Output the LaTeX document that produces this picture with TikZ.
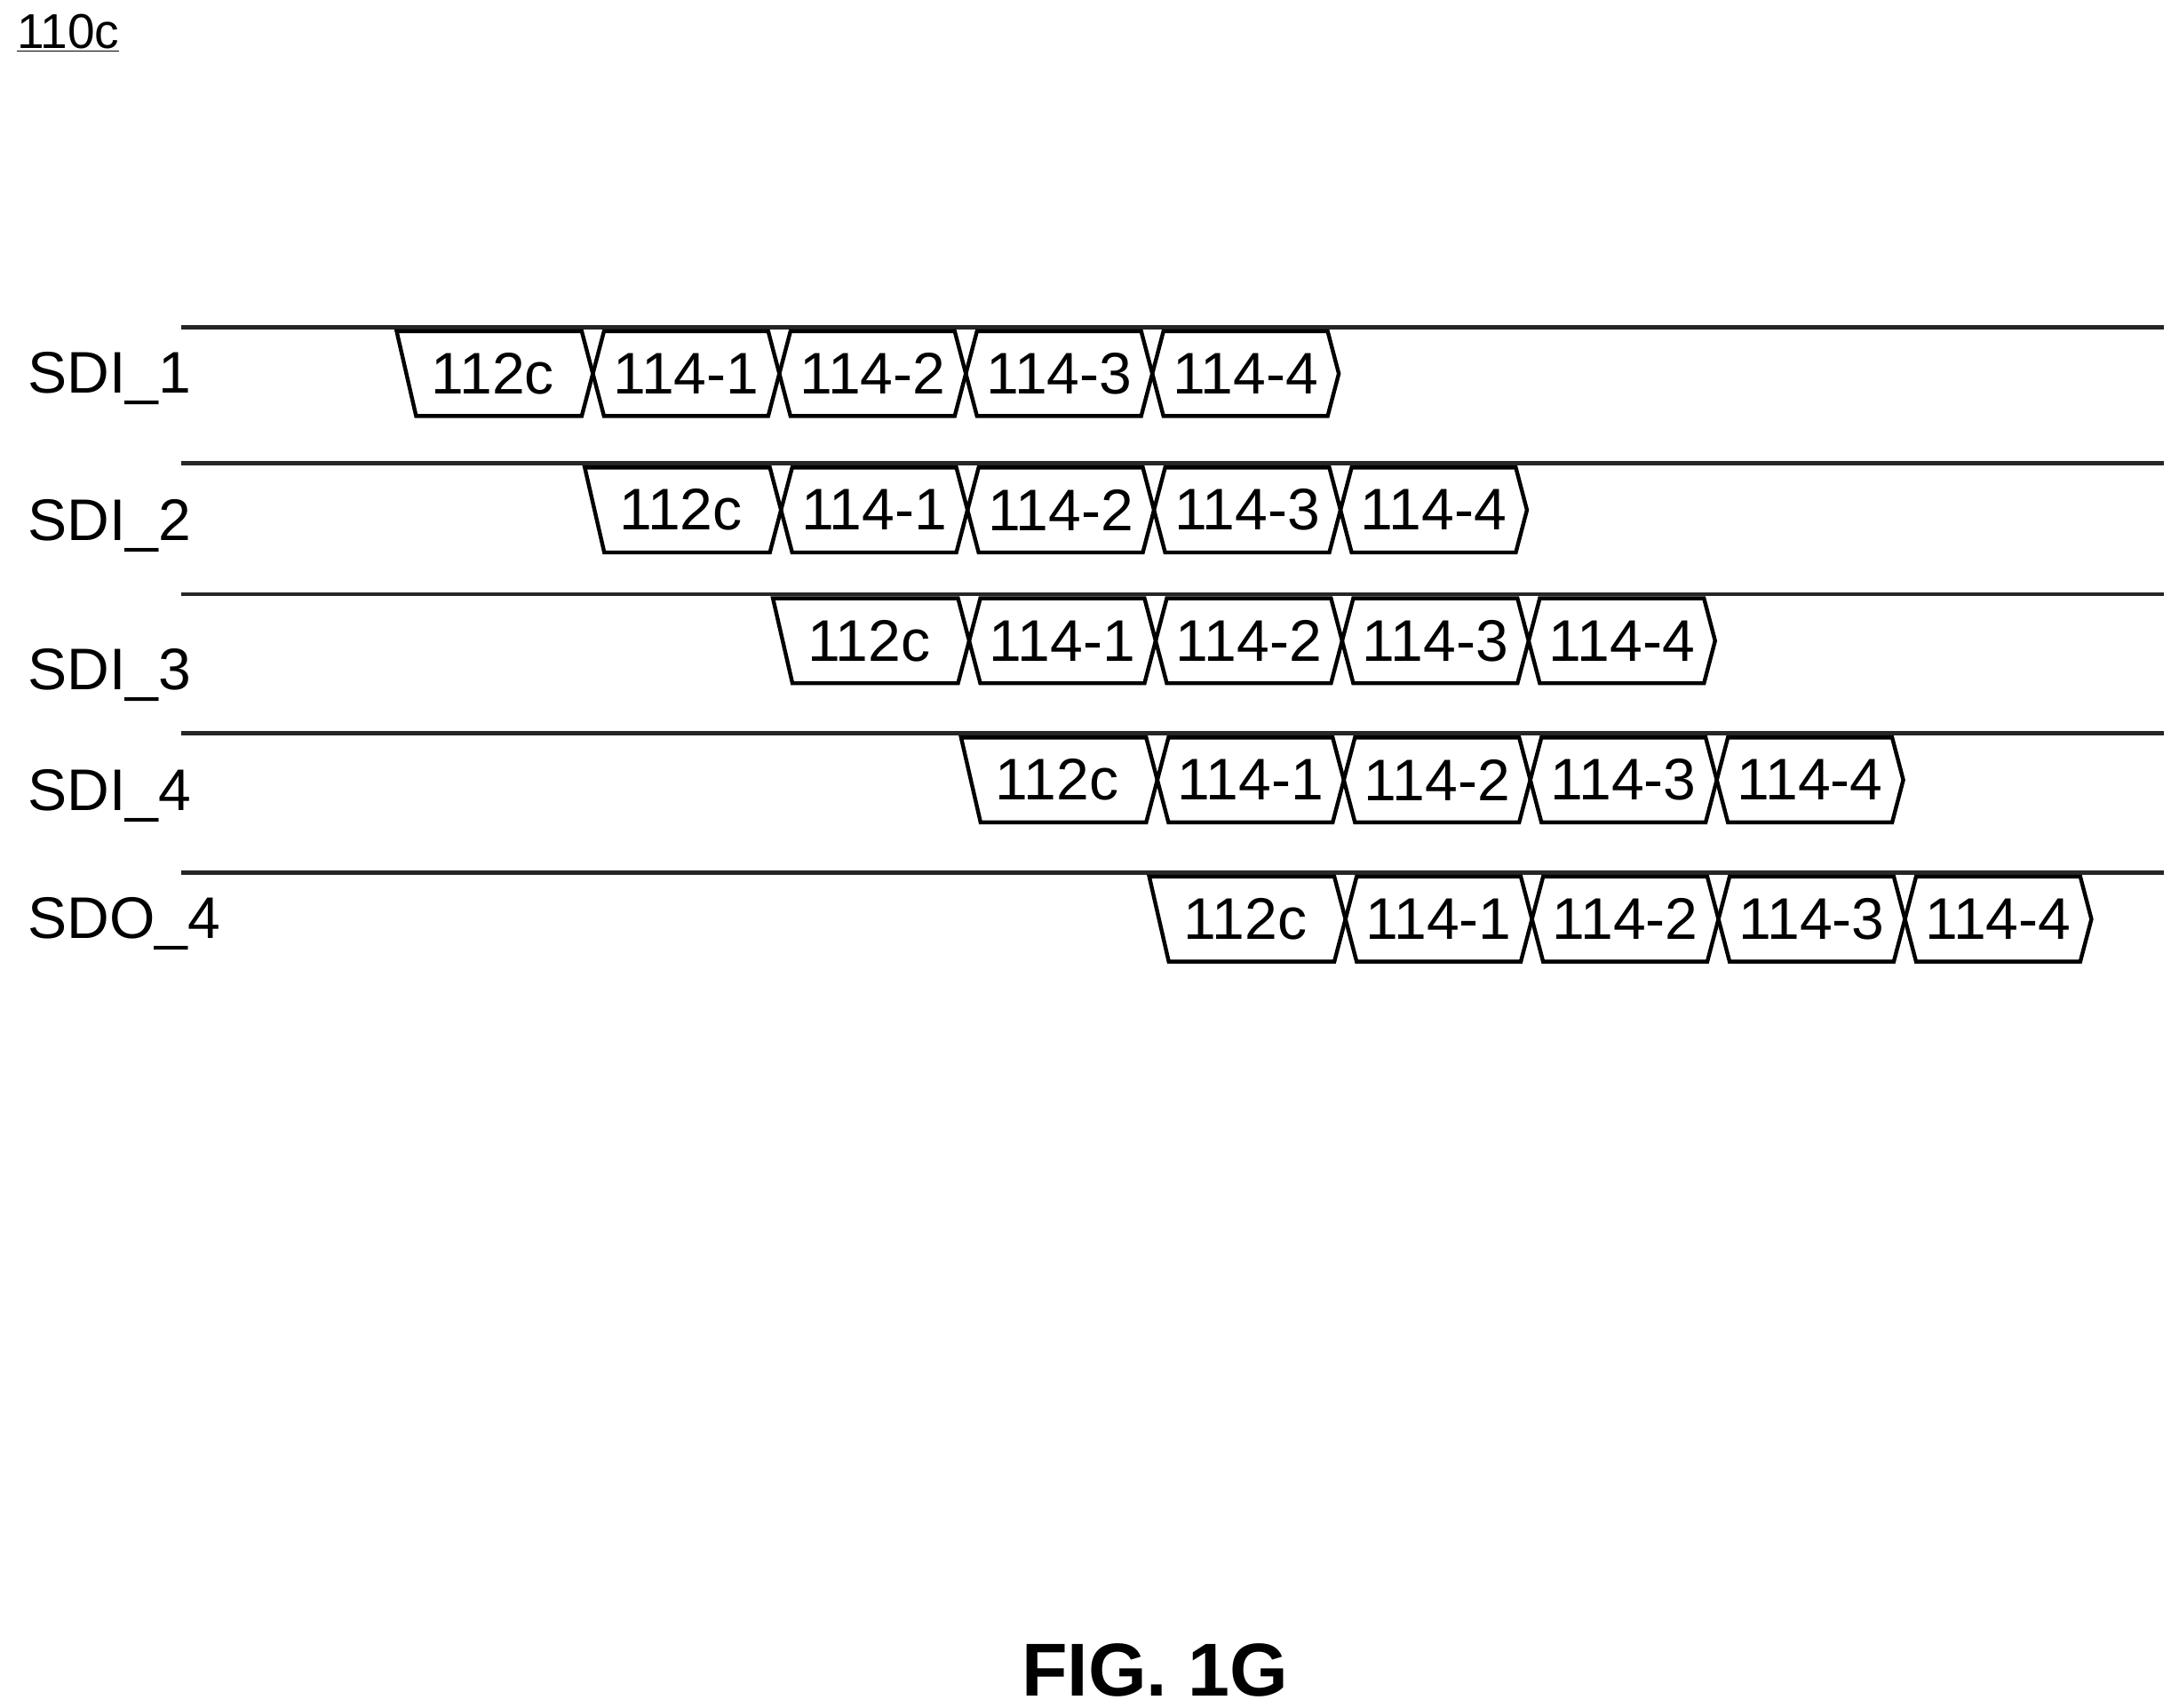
\documentclass[tikz,border=0pt]{standalone}
\usepackage{fontspec}
\setmainfont{Liberation Sans}
\begin{document}
\begin{tikzpicture}[x=0.3mm,y=-0.3mm,
  rail/.style={line width=2.6pt,black!85},
  cell/.style={line width=2.4pt,line join=miter},
  lab/.style={font=\fontsize{36}{40}\selectfont,inner sep=0},
  sig/.style={font=\fontsize{36}{40}\selectfont,anchor=west,inner sep=0}]
\useasboundingbox (0,0) rectangle (1560,1227);
\node[anchor=north west,inner sep=0,font=\fontsize{30}{34}\selectfont] (ref) at (12,10) {\underline{110c}};
\node[font=\bfseries\fontsize{46}{50}\selectfont,inner sep=0] (fig) at (830,1200) {FIG. 1G};
\foreach \r/\ly/\top/\nm in {1/272/238/SDI\_1,2/378/336/SDI\_2,3/485/430/SDI\_3,4/572/530/SDI\_4,5/664/630/SDO\_4}{
  \pgfmathsetmacro{\lt}{\top-3}
  \draw[rail] (130,\lt) -- (1555,\lt);
  \node[sig] (s\r) at (20,\ly) {\nm};
  \pgfmathsetmacro{\s}{292+135.2*(\r-1)}
  \pgfmathsetmacro{\bt}{\top+61}
  \pgfmathsetmacro{\md}{\top+30.5}
  \draw[cell] (\s-7,\top) -- (\s+7,\bt) -- (\s+134-8,\bt) -- (\s+134,\md) -- (\s+134-8,\top) -- cycle;
  \node[lab] (c\r) at (\s+62,\md) {112c};
  \foreach \k in {1,...,4}{
    \pgfmathsetmacro{\a}{\s+134*\k}
    \pgfmathsetmacro{\b}{\s+134*(\k+1)}
    \draw[cell] (\a,\md) -- (\a+8,\top) -- (\b-8,\top) -- (\b,\md) -- (\b-8,\bt) -- (\a+8,\bt) -- cycle;
    \node[lab] (d\r-\k) at ({(\a+\b)/2},\md) {114-\k};
  }
}
\end{tikzpicture}
\end{document}
